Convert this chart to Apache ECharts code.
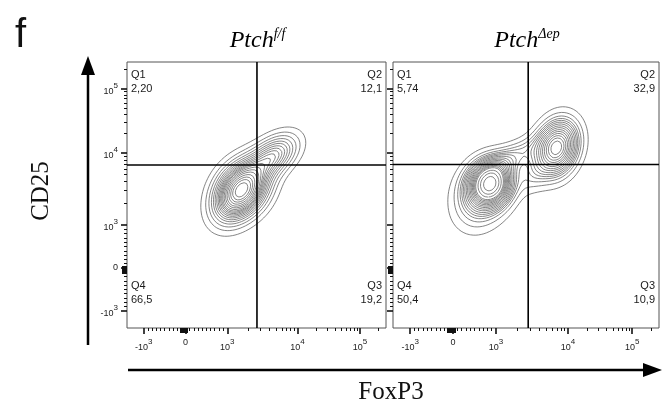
<!DOCTYPE html>
<html><head><meta charset="utf-8">
<script src="https://cdn.jsdelivr.net/npm/echarts@6/dist/echarts.min.js"></script>
<style>html,body{margin:0;padding:0;background:#fff}#c{width:668px;height:412px}</style>
</head><body><div id="c"></div>
<script>
// ---------------- data ----------------
const panelNames = ['Ptch', 'Ptch'];
const panelSups = ['f/f', '\u0394ep'];
const quadrantNames = ['Q1', 'Q2', 'Q3', 'Q4'];
const quadPctCtrl = ['2,20', '12,1', '19,2', '66,5'];
const quadPctKO = ['5,74', '32,9', '10,9', '50,4'];
const gateFoxP3 = [2650, 2800];
const gateCD25 = [6800, 6900];
const tickLabels = ['-10^3', '0', '10^3', '10^4', '10^5'];
const tickValues = [-1000, 0, 1000, 10000, 100000];
const minorTickValues = [-900,-800,-700,-600,-500,-400,-300,-200,-100,100,200,300,400,500,600,700,800,900,
  2000,3000,4000,5000,6000,7000,8000,9000,20000,30000,40000,50000,60000,70000,80000,90000,200000];
const denseTickValues = [-130,-120,-110,-100,-90,-80,-70,-60,-50,-40,-30,-20,-10,0,10,20,30,40,50];
const xTitle = 'FoxP3';
const yTitle = 'CD25';
const panelLetter = 'f';
// cell populations: [FoxP3 centre, CD25 centre, spread x, spread y (display decades), correlation, weight]
const popsCtrl = [
  [1680, 3250, 0.40, 0.42, 0.25, 0.62],
  [1150, 2000, 0.36, 0.40, 0.30, 0.14],
  [4600, 9200, 0.38, 0.33, 0.45, 0.22]
];
const popsKO = [
  [880, 3750, 0.31, 0.33, 0.10, 0.34],
  [650, 2500, 0.42, 0.50, 0.20, 0.20],
  [7000, 12000, 0.32, 0.42, 0.20, 0.34],
  [1600, 8400, 0.48, 0.32, 0.70, 0.08],
  [3300, 5200, 0.25, 0.30, 0.30, 0.03]
];
const probLevels = [0.05,0.10,0.15,0.20,0.25,0.30,0.35,0.40,0.45,0.50,0.55,0.60,0.65,0.70,0.75,0.80,0.85,0.90,0.95];

// ---------------- logicle-like display transform ----------------
function disp(v) {
  if (v >= -1000 && v <= 1000) return v / 1000;
  const s = v < 0 ? -1 : 1, lg = Math.log10(Math.abs(v));
  if (lg <= 4) return s * (1 + (lg - 3) * 1.68);
  return s * (2.68 + (lg - 4) * 1.495);
}
const AMIN = -1.4, AMAX = 4.8;

// ---------------- density & contours ----------------
const N = 200;
const grid = [];
for (let i = 0; i < N; i++) grid.push(AMIN + (AMAX - AMIN) * i / (N - 1));
function density(pops) {
  const f = new Float64Array(N * N);
  pops.forEach(p => {
    const cx = disp(p[0]), cy = disp(p[1]), sx = p[2], sy = p[3], r = p[4], w = p[5];
    const k = w / (2 * Math.PI * sx * sy * Math.sqrt(1 - r * r));
    for (let j = 0; j < N; j++) for (let i = 0; i < N; i++) {
      const dx = (grid[i] - cx) / sx, dy = (grid[j] - cy) / sy;
      f[j * N + i] += k * Math.exp(-(dx * dx - 2 * r * dx * dy + dy * dy) / (2 * (1 - r * r)));
    }
  });
  return f;
}
function thresholds(f, levels) {
  const s = Array.from(f).sort((a, b) => b - a);
  const tot = s.reduce((a, b) => a + b, 0);
  const out = []; let cum = 0, li = 0;
  for (let k = 0; k < s.length && li < levels.length; k++) {
    cum += s[k];
    while (li < levels.length && cum / tot >= levels[li]) { out.push(s[k]); li++; }
  }
  return out;
}
function marching(f, L) {
  const segs = [], pt = {};
  function ep(key, ax, ay, va, bx, by, vb) {
    if (!(key in pt)) { const t = (L - va) / (vb - va); pt[key] = [ax + (bx - ax) * t, ay + (by - ay) * t]; }
    return key;
  }
  for (let j = 0; j < N - 1; j++) for (let i = 0; i < N - 1; i++) {
    const v0 = f[j * N + i], v1 = f[j * N + i + 1], v2 = f[(j + 1) * N + i + 1], v3 = f[(j + 1) * N + i];
    const c = (v0 > L ? 1 : 0) | (v1 > L ? 2 : 0) | (v2 > L ? 4 : 0) | (v3 > L ? 8 : 0);
    if (c === 0 || c === 15) continue;
    const x0 = grid[i], x1 = grid[i + 1], y0 = grid[j], y1 = grid[j + 1];
    const E = [
      () => ep('h' + i + '_' + j, x0, y0, v0, x1, y0, v1),
      () => ep('v' + (i + 1) + '_' + j, x1, y0, v1, x1, y1, v2),
      () => ep('h' + i + '_' + (j + 1), x0, y1, v3, x1, y1, v2),
      () => ep('v' + i + '_' + j, x0, y0, v0, x0, y1, v3)
    ];
    let pairs;
    if (c === 5 || c === 10) {
      const center = (v0 + v1 + v2 + v3) / 4 > L;
      pairs = ((c === 5) === center) ? [[0, 1], [2, 3]] : [[3, 0], [1, 2]];
    } else {
      const b = [c & 1, c & 2, c & 4, c & 8].map(x => x > 0), cr = [];
      if (b[0] !== b[1]) cr.push(0);
      if (b[1] !== b[2]) cr.push(1);
      if (b[2] !== b[3]) cr.push(2);
      if (b[3] !== b[0]) cr.push(3);
      pairs = [cr];
    }
    pairs.forEach(p => segs.push([E[p[0]](), E[p[1]]()]));
  }
  const adj = {};
  segs.forEach((s, k) => { (adj[s[0]] = adj[s[0]] || []).push(k); (adj[s[1]] = adj[s[1]] || []).push(k); });
  const used = new Uint8Array(segs.length), lines = [];
  function extend(arr, atEnd) {
    while (true) {
      const key = atEnd ? arr[arr.length - 1] : arr[0];
      const nb = (adj[key] || []).find(m => !used[m]);
      if (nb === undefined) break;
      used[nb] = 1;
      const s = segs[nb], nxt = s[0] === key ? s[1] : s[0];
      if (atEnd) arr.push(nxt); else arr.unshift(nxt);
    }
  }
  for (let k = 0; k < segs.length; k++) {
    if (used[k]) continue; used[k] = 1;
    const ch = [segs[k][0], segs[k][1]];
    extend(ch, true); extend(ch, false);
    lines.push(ch.map(key => pt[key]));
  }
  return lines;
}

// ---------------- layout ----------------
const grids = [
  { left: 127, top: 62, width: 259, height: 266 },
  { left: 393, top: 62, width: 266, height: 266 }
];
const majorDisp = tickValues.map(disp);
const minorDisp = minorTickValues.map(disp);
const denseDisp = denseTickValues.map(disp);
function richLab(s) {
  const m = s.split('^');
  return m.length > 1 ? '{b|' + m[0] + '}{s|' + m[1] + '}' : '{b|' + s + '}';
}
const labRich = {
  b: { fontSize: 9, fontFamily: 'Liberation Sans', color: '#222', verticalAlign: 'bottom' },
  s: { fontSize: 8, fontFamily: 'Liberation Sans', color: '#222', verticalAlign: 'bottom', padding: [0, 0, 6, 0] }
};
function labFmt(v) {
  const k = majorDisp.findIndex(d => Math.abs(d - v) < 1e-6);
  return k >= 0 ? richLab(tickLabels[k]) : '';
}
const xAxes = [], yAxes = [], series = [];
function tickAxis(base, pos, vals, len, w) {
  return Object.assign({}, base, {
    position: pos, axisLine: { show: false, onZero: false },
    axisTick: { show: true, customValues: vals, length: len, lineStyle: { color: '#111', width: w } },
    axisLabel: { show: false }
  });
}
grids.forEach((g, gi) => {
  const base = { gridIndex: gi, type: 'value', min: AMIN, max: AMAX, splitLine: { show: false } };
  xAxes.push(Object.assign({}, base, {
    position: 'bottom', axisLine: { show: false, onZero: false },
    axisTick: { show: true, customValues: majorDisp, length: 6, lineStyle: { color: '#111', width: 1.6 } },
    axisLabel: { show: true, customValues: majorDisp, formatter: labFmt, margin: 10, rich: labRich }
  }));
  xAxes.push(tickAxis(base, 'bottom', minorDisp, 3, 1));
  xAxes.push(tickAxis(base, 'bottom', denseDisp, 5, 1));
  yAxes.push(Object.assign({}, base, {
    position: 'left', axisLine: { show: false, onZero: false },
    axisTick: { show: true, customValues: majorDisp, length: 6, lineStyle: { color: '#111', width: 1.6 } },
    axisLabel: { show: gi === 0, customValues: majorDisp, formatter: labFmt, margin: 9, rich: labRich }
  }));
  yAxes.push(tickAxis(base, 'left', minorDisp, 3, 1));
  yAxes.push(tickAxis(base, 'left', denseDisp, 5, 1));
  const pops = gi === 0 ? popsCtrl : popsKO;
  const f = density(pops);
  const th = thresholds(f, probLevels);
  th.forEach(L => {
    marching(f, L).forEach(poly => {
      series.push({ type: 'line', xAxisIndex: gi * 3, yAxisIndex: gi * 3, data: poly, showSymbol: false, symbol: 'none',
        lineStyle: { color: '#5c5c5c', width: 0.75 }, silent: true, z: 2, clip: true });
    });
  });
  const gx = disp(gateFoxP3[gi]), gy = disp(gateCD25[gi]);
  series.push({ type: 'line', xAxisIndex: gi * 3, yAxisIndex: gi * 3, data: [[gx, AMIN], [gx, AMAX]], symbol: 'none', lineStyle: { color: '#000', width: 1.6 }, z: 5, silent: true });
  series.push({ type: 'line', xAxisIndex: gi * 3, yAxisIndex: gi * 3, data: [[AMIN, gy], [AMAX, gy]], symbol: 'none', lineStyle: { color: '#000', width: 1.6 }, z: 5, silent: true });
});

// ---------------- text decorations ----------------
const graphic = [];
const qFont = '11px "Liberation Sans", Arial, sans-serif';
grids.forEach((g, gi) => {
  const pct = gi === 0 ? quadPctCtrl : quadPctKO;
  const L = g.left + 4, R = g.left + g.width - 4, T = g.top + 20, B = g.top + g.height - 35;
  const pos = [[L, T, 'left'], [R, T, 'right'], [R, B, 'right'], [L, B, 'left']];
  pos.forEach((p, k) => {
    graphic.push({ type: 'text', x: p[0], y: p[1], z: 10, style: { text: quadrantNames[k] + '\n' + pct[k], font: qFont, fill: '#1a1a1a', lineHeight: 14, align: p[2], textAlign: p[2], verticalAlign: 'middle', textVerticalAlign: 'middle' } });
  });
  graphic.push({ type: 'text', x: g.left + g.width / 2 + 1, y: 40, z: 10, style: {
    text: '{a|' + panelNames[gi] + '}{b|' + panelSups[gi] + '}', align: 'center', textAlign: 'center', verticalAlign: 'middle', textVerticalAlign: 'middle',
    rich: { a: { fontFamily: '"Liberation Serif", serif', fontStyle: 'italic', fontSize: 24, color: '#111', lineHeight: 26, verticalAlign: 'bottom' },
            b: { fontFamily: '"Liberation Serif", serif', fontStyle: 'italic', fontSize: 14, color: '#111', lineHeight: 26, verticalAlign: 'top' } } } });
});
graphic.push({ type: 'text', x: 15, y: 36, style: { text: panelLetter, font: '40px "Liberation Sans", Arial, sans-serif', fill: '#111', align: 'left', textAlign: 'left', verticalAlign: 'middle', textVerticalAlign: 'middle' } });
graphic.push({ type: 'text', x: 41, y: 191, rotation: Math.PI / 2, style: { text: yTitle, font: '25px "Liberation Serif", serif', fill: '#111', align: 'center', textAlign: 'center', verticalAlign: 'middle', textVerticalAlign: 'middle' } });
graphic.push({ type: 'text', x: 391, y: 392, style: { text: xTitle, font: '25px "Liberation Serif", serif', fill: '#111', align: 'center', textAlign: 'center', verticalAlign: 'middle', textVerticalAlign: 'middle' } });
// arrows
graphic.push({ type: 'line', shape: { x1: 88, y1: 345, x2: 88, y2: 70 }, style: { stroke: '#000', lineWidth: 2.5 } });
graphic.push({ type: 'polygon', shape: { points: [[88, 56], [81, 75], [95, 75]] }, style: { fill: '#000' } });
graphic.push({ type: 'line', shape: { x1: 128, y1: 370, x2: 648, y2: 370 }, style: { stroke: '#000', lineWidth: 2.5 } });
graphic.push({ type: 'polygon', shape: { points: [[662, 370], [643, 363], [643, 377]] }, style: { fill: '#000' } });

const chart = echarts.init(document.getElementById('c'), null, { renderer: 'canvas' });
chart.setOption({
  animation: false,
  backgroundColor: '#fff',
  grid: grids.map(g => Object.assign({ show: true, borderColor: '#555', borderWidth: 1, backgroundColor: 'transparent' }, g)),
  xAxis: xAxes, yAxis: yAxes, series, graphic
});
</script></body></html>
